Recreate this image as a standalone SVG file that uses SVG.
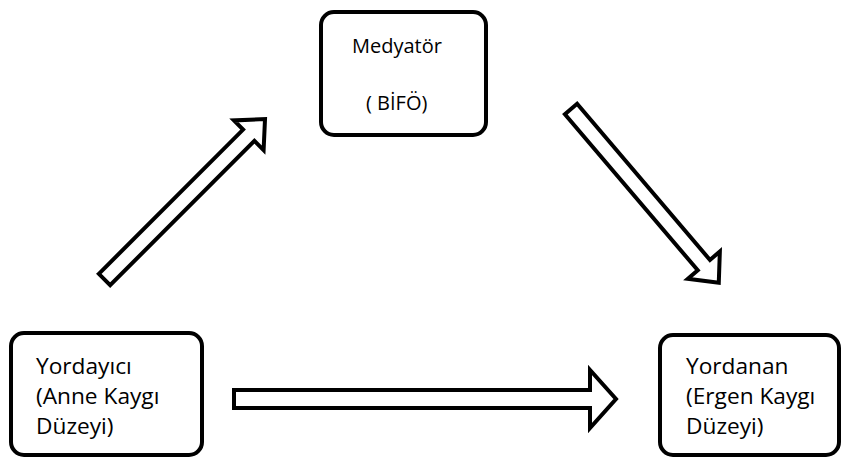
<svg xmlns="http://www.w3.org/2000/svg" width="845" height="462" viewBox="0 0 845 462">
<style>
.box{fill:#fff;stroke:#000;stroke-width:4}
.arr{fill:#fff;stroke:#000;stroke-width:4;stroke-linejoin:miter;stroke-miterlimit:10}
text{font-family:"Open Sans","Noto Sans","DejaVu Sans",sans-serif;font-size:22.7px;fill:#000}
.top{font-size:20px}
</style>
<rect width="845" height="462" fill="#fff"/>
<g id="connectors">
<polygon class="arr" points="234,390 590,390 590,370 616,399 590,428 590,408 234,408"/>
<polygon class="arr" transform="translate(104.5,279.5) rotate(-45)" points="0,-8 204,-8 204,-21 227,0 204,21 204,8 0,8"/>
<polygon class="arr" transform="translate(571,109) rotate(49.6)" points="0,-8 205,-8 205,-21 228,0 205,21 205,8 0,8"/>
</g>
<g id="mediator">
<rect class="box" x="321" y="12" width="165" height="123" rx="13"/>
<text class="top" x="352" y="53">Medyatör</text>
<text class="top" x="366" y="110">( BİFÖ)</text>
</g>
<g id="predictor">
<rect class="box" x="11" y="333" width="191" height="122" rx="13"/>
<text x="36" y="374">Yordayıcı</text>
<text x="36" y="404">(Anne Kaygı</text>
<text x="36" y="434">Düzeyi)</text>
</g>
<g id="outcome">
<rect class="box" x="660" y="335" width="179" height="120" rx="13"/>
<text x="686" y="374">Yordanan</text>
<text x="686" y="404">(Ergen Kaygı</text>
<text x="686" y="434">Düzeyi)</text>
</g>
</svg>
